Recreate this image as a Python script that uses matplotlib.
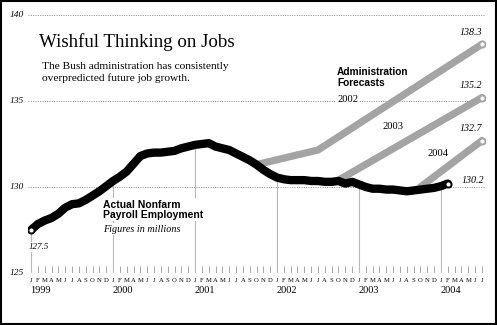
import matplotlib
matplotlib.use('Agg')
import matplotlib.pyplot as plt
from matplotlib.patches import Rectangle

# Actual nonfarm payroll employment (millions), monthly Jan 1999 - Feb 2004
actual = [127.5, 127.85, 128.05, 128.2, 128.45, 128.8, 129.0, 129.05, 129.25, 129.5, 129.75, 130.05,
          130.35, 130.6, 130.9, 131.35, 131.8, 131.95, 132.0, 132.0, 132.05, 132.1, 132.25, 132.35,
          132.45, 132.5, 132.55, 132.35, 132.25, 132.15, 131.95, 131.75, 131.55, 131.3, 131.0, 130.75,
          130.55, 130.45, 130.4, 130.4, 130.4, 130.35, 130.35, 130.3, 130.3, 130.35, 130.2, 130.3,
          130.15, 130.0, 129.9, 129.9, 129.85, 129.85, 129.8, 129.75, 129.8, 129.85, 129.9, 129.95,
          130.05, 130.2]

# Administration forecasts: month index (0 = Jan 1999) and value
fc2002_m = [33, 42, 66]
fc2002_v = [131.3, 132.15, 138.3]
fc2003_m = [45, 66]
fc2003_v = [130.4, 135.2]
fc2004_m = [57, 66]
fc2004_v = [130.0, 132.7]

years = [1999, 2000, 2001, 2002, 2003, 2004]
month_letters = list('JFMAMJJASOND')
n_months = 67  # Jan 1999 - Jul 2004
y_ticks = [125, 130, 135, 140]

serif = 'Liberation Serif'
sans = 'Liberation Sans'
gray = '#a4a4a4'

fig = plt.figure(figsize=(4.97, 3.25), dpi=100)
ax = fig.add_axes([28 / 497, 52 / 325, 457 / 497, 258 / 325])
ax.set_xlim(-0.45, 66.45)
ax.set_ylim(125, 140)
ax.axis('off')

# dotted horizontal gridlines + labels
for v in y_ticks:
    ax.axhline(v, color='#7d907d', lw=0.7, ls=(0, (1, 1.4)), zorder=1)
    ax.text(-1.1, v, str(v), ha='right', va='center', fontsize=6.8,
            style='italic', family=serif)

# month ticks and letters
for m in range(n_months):
    ax.vlines(m, 125, 125.38, color='#999999', lw=0.6, zorder=1)
    ax.text(m, 124.55, month_letters[m % 12], ha='center', va='center',
            fontsize=4.8, family=serif)

# year labels and vertical year lines up to the actual line
for i, yr in enumerate(years):
    m = 12 * i
    ax.vlines(m, 125, actual[m], color='#b8b8b8', lw=0.8, zorder=1)
    ax.text(m - 0.1, 123.85, str(yr), ha='left', va='baseline',
            fontsize=7.4, family=serif)

# forecast lines
for fm, fv in [(fc2002_m, fc2002_v), (fc2003_m, fc2003_v), (fc2004_m, fc2004_v)]:
    ax.plot(fm, fv, color=gray, lw=5.2, solid_capstyle='round',
            solid_joinstyle='round', zorder=2)
    ax.plot(fm[-1], fv[-1], 'o', ms=4.4, mfc='white', mec=gray, mew=1.4, zorder=3)
    ax.text(66.1, fv[-1] + 0.7, f'{fv[-1]:.1f}', ha='right', va='center',
            fontsize=7.2, style='italic', family=serif)

# actual line
months = list(range(len(actual)))
ax.plot(months, actual, color='black', lw=6, solid_capstyle='round',
        solid_joinstyle='round', zorder=4)
ax.plot([months[0], months[-1]], [actual[0], actual[-1]], 'o', ms=4.4,
        mfc='white', mec='black', mew=1.4, zorder=5)

white = dict(fc='white', ec='none', pad=1)

ax.text(-0.3, actual[0] - 0.99, f'{actual[0]:.1f}', ha='left', va='center',
        fontsize=6.5, style='italic', family=serif, bbox=white, zorder=6)
ax.text(63.0, actual[-1] + 0.15, f'{actual[-1]:.1f}', ha='left', va='center',
        fontsize=7.2, style='italic', family=serif, bbox=white, zorder=6)

# forecast year labels
ax.text(44.8, 135.06, '2002', ha='left', va='center', fontsize=7.6,
        family=serif, bbox=white, zorder=6)
ax.text(51.4, 133.49, '2003', ha='left', va='center', fontsize=7.6,
        family=serif, zorder=6)
ax.text(58.0, 131.95, '2004', ha='left', va='center', fontsize=7.6,
        family=serif, zorder=6)

ax.text(44.8, 136.51, 'Administration', ha='left', va='baseline',
        fontsize=7.3, weight='bold', family=sans, zorder=6)
ax.text(44.8, 135.87, 'Forecasts', ha='left', va='baseline',
        fontsize=7.3, weight='bold', family=sans, zorder=6)

ax.text(10.5, 128.2, 'Actual Nonfarm\nPayroll Employment', ha='left', va='baseline',
        fontsize=7.5, weight='bold', family=sans, linespacing=1.05,
        bbox=white, zorder=6)
ax.text(10.5, 127.4, 'Figures in millions', ha='left', va='baseline',
        fontsize=7.3, style='italic', family=serif, bbox=white, zorder=6)

# title block
ax.text(1.17, 138.14, 'Wishful Thinking on Jobs', ha='left', va='baseline',
        fontsize=13.6, family=serif, zorder=6)
ax.text(1.6, 136.86, 'The Bush administration has consistently', ha='left',
        va='baseline', fontsize=8.2, family=serif, zorder=6)
ax.text(1.6, 136.16, 'overpredicted future job growth.', ha='left',
        va='baseline', fontsize=8.2, family=serif, zorder=6)

fig.add_artist(Rectangle((0.002, 0.003), 0.996, 0.994, transform=fig.transFigure,
                         fill=False, ec='black', lw=1.5))

plt.savefig('out.png', dpi=100)
